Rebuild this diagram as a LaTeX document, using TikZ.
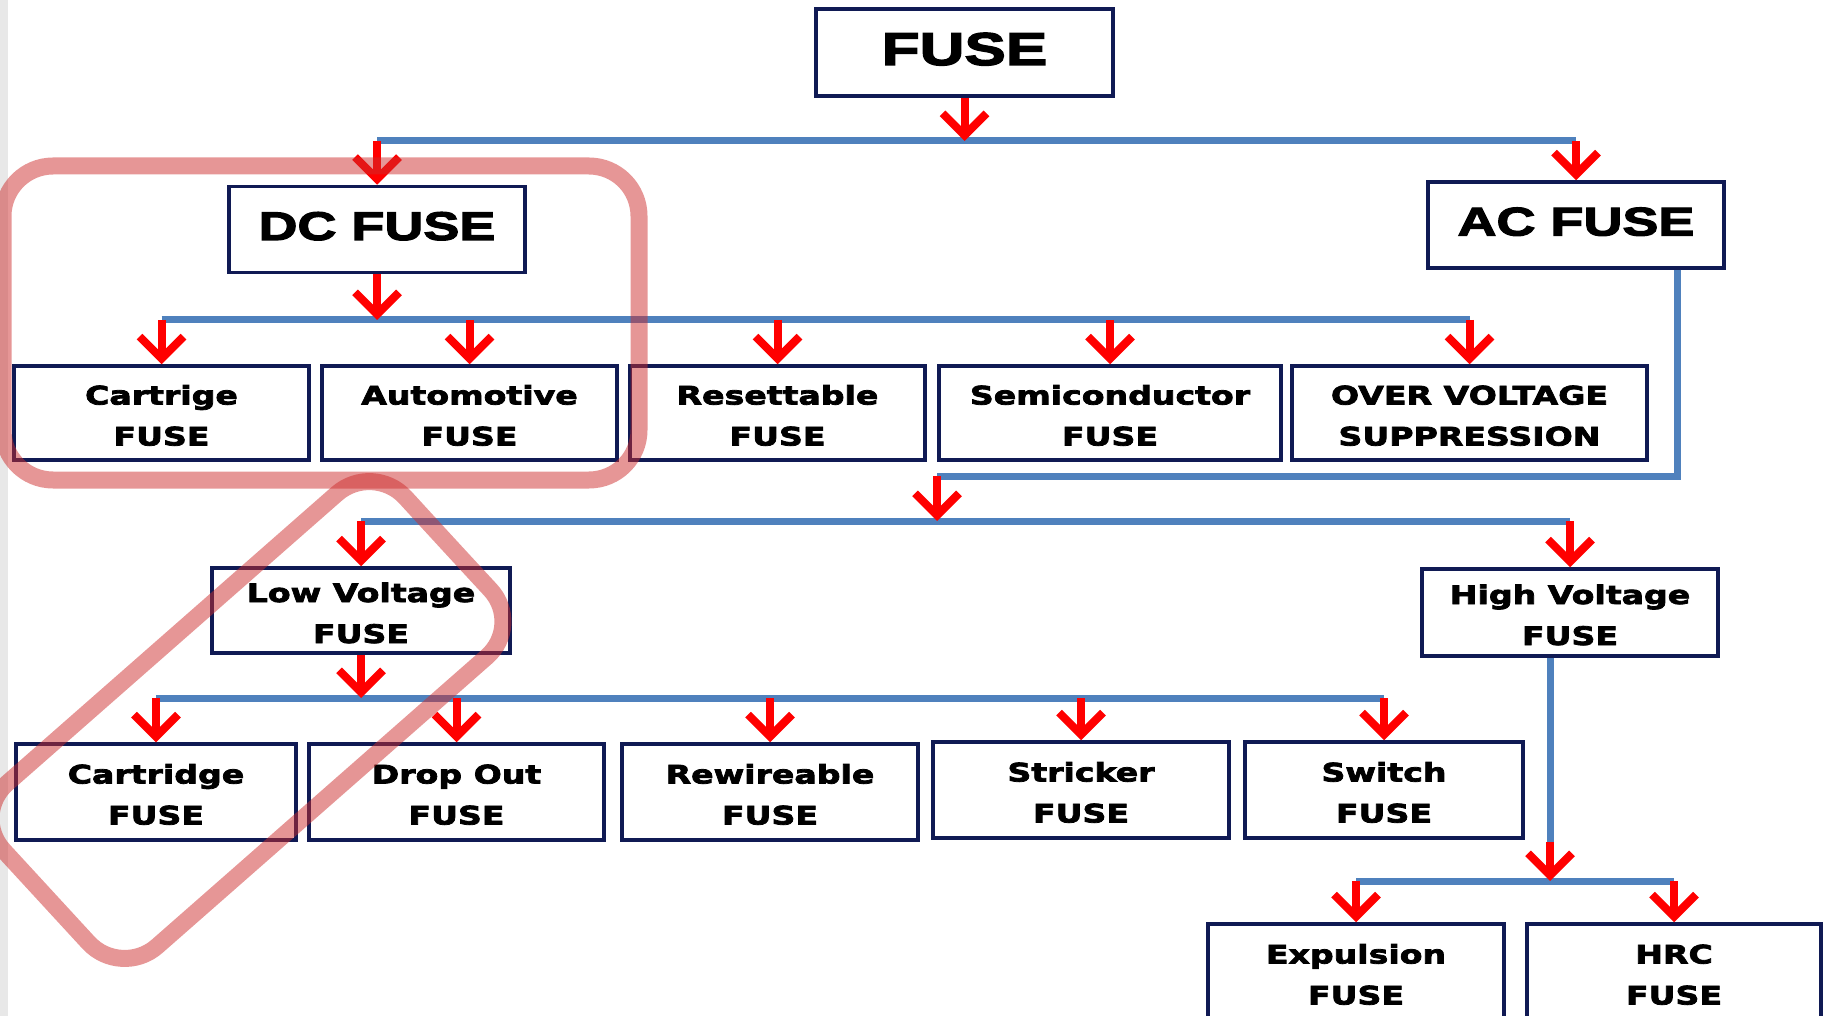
\documentclass[tikz,border=0pt]{standalone}
\usepackage{fontspec}
\newfontfamily\boxfont{DejaVu Sans}[FakeStretch=1.3,FakeBold=3]
\newfontfamily\headfont{Liberation Sans}[FakeStretch=1.35,FakeBold=3]
\usetikzlibrary{arrows.meta}
\definecolor{navy}{RGB}{16,26,84}
\definecolor{busblue}{RGB}{79,129,189}
\definecolor{marker}{RGB}{205,45,45}
\tikzset{
  fusebox/.style={draw=navy, line width=3.5pt, fill=white, inner sep=0pt,
    minimum height=94pt, align=center, text height=65pt, text depth=0pt,
    font=\boxfont\bfseries\fontsize{25.5}{41}\selectfont},
  headbox/.style={fusebox, minimum width=296pt, minimum height=86pt,
    text height=29pt, text depth=8pt,
    font=\headfont\bfseries\fontsize{40}{46}\selectfont},
  busline/.style={color=busblue, line width=7pt},
  redarrow/.style={color=red, line width=8pt, -{Straight Barb[length=22pt,width=44pt]}},
  highlight/.style={color=marker, draw opacity=0.5, line width=17pt},
}
\begin{document}
\begin{tikzpicture}[x=1pt,y=-1pt]
      \useasboundingbox (0,0) rectangle (1829,1016);
      \fill[black!9] (0,0) rectangle (8,1016);
      \draw
        (964.5,52.5) node[headbox, minimum width=297pt, minimum height=87pt, text height=33pt,
          font=\headfont\bfseries\fontsize{46}{52}\selectfont] (fuse) {FUSE}
        (377,229.5) node[headbox] (dc) {DC FUSE}
        (1576,225) node[headbox] (ac) {AC FUSE}
        (161.5,413) node[fusebox, minimum width=295pt] (cartrige) {Cartrige\\FUSE}
        (469.5,413) node[fusebox, minimum width=295pt] (automotive) {Automotive\\FUSE}
        (777.5,413) node[fusebox, minimum width=295pt] (resettable) {Resettable\\FUSE}
        (1110,413) node[fusebox, minimum width=342pt] (semicond) {Semiconductor\\FUSE}
        (1469.5,413) node[fusebox, minimum width=355pt] (overvolt) {OVER VOLTAGE\\SUPPRESSION}
        (361,610.5) node[fusebox, minimum width=298pt, minimum height=85pt] (lowv) {Low Voltage\\FUSE}
        (1570,612.5) node[fusebox, minimum width=296pt, minimum height=87pt] (highv) {High Voltage\\FUSE}
        (156,792) node[fusebox, minimum width=280pt, minimum height=96pt] (cartridge) {Cartridge\\FUSE}
        (456.5,792) node[fusebox, minimum width=295pt, minimum height=96pt] (dropout) {Drop Out\\FUSE}
        (770,792) node[fusebox, minimum width=296pt, minimum height=96pt] (rewire) {Rewireable\\FUSE}
        (1081,790) node[fusebox, minimum width=296pt, minimum height=96pt] (stricker) {Stricker\\FUSE}
        (1384,790) node[fusebox, minimum width=278pt, minimum height=96pt] (switch) {Switch\\FUSE}
        (1356,972) node[fusebox, minimum width=296pt, minimum height=96pt] (expulsion) {Expulsion\\FUSE}
        (1674,972) node[fusebox, minimum width=294pt, minimum height=96pt] (hrc) {HRC\\FUSE};
      \coordinate (b0) at (0,141);
      \coordinate (b1) at (0,320);
      \coordinate (b2) at (0,521);
      \coordinate (b3) at (0,698);
      \coordinate (b4) at (0,881);
      \coordinate (acturn) at (1677,476);
      \coordinate (acdrop) at (937,476);
      \coordinate (hvturn) at (1550,842);
      \begin{scope}[busline]
        \draw (dc.north |- b0) to (ac.north |- b0);
        \draw (cartrige.north |- b1) to (overvolt.north |- b1);
        \draw (ac.south -| acturn) to (acturn) to (acdrop);
        \draw (lowv.north |- b2) to (highv.north |- b2);
        \draw (cartridge.north |- b3) to (switch.north |- b3);
        \draw (highv.south -| hvturn) to (hvturn);
        \draw (expulsion.north |- b4) to (hrc.north |- b4);
      \end{scope}
      \begin{scope}[redarrow]
        \draw (fuse) to (fuse |- b0);
        \draw (dc.north |- b0) to (dc);
        \draw (ac.north |- b0) to (ac);
        \draw (dc) to (dc |- b1);
        \foreach \n in {cartrige,automotive,resettable,semicond,overvolt}
          \draw (\n.north |- b1) to (\n);
        \draw (acdrop) to (acdrop |- b2);
        \draw (lowv.north |- b2) to (lowv);
        \draw (highv.north |- b2) to (highv);
        \draw (lowv) to (lowv |- b3);
        \foreach \n in {cartridge,dropout,rewire,stricker,switch}
          \draw (\n.north |- b3) to (\n);
        \draw (hvturn) to (hvturn |- b4);
        \draw (expulsion.north |- b4) to (expulsion);
        \draw (hrc.north |- b4) to (hrc);
      \end{scope}
      \draw[highlight, rounded corners=50pt] (3,166) rectangle (639,480);
      \draw[highlight, rounded corners=48pt]
        (448,544) -- (523,625) -- (121,978) -- (-29,815) -- (373,462) -- cycle;
    \end{tikzpicture}
\end{document}
